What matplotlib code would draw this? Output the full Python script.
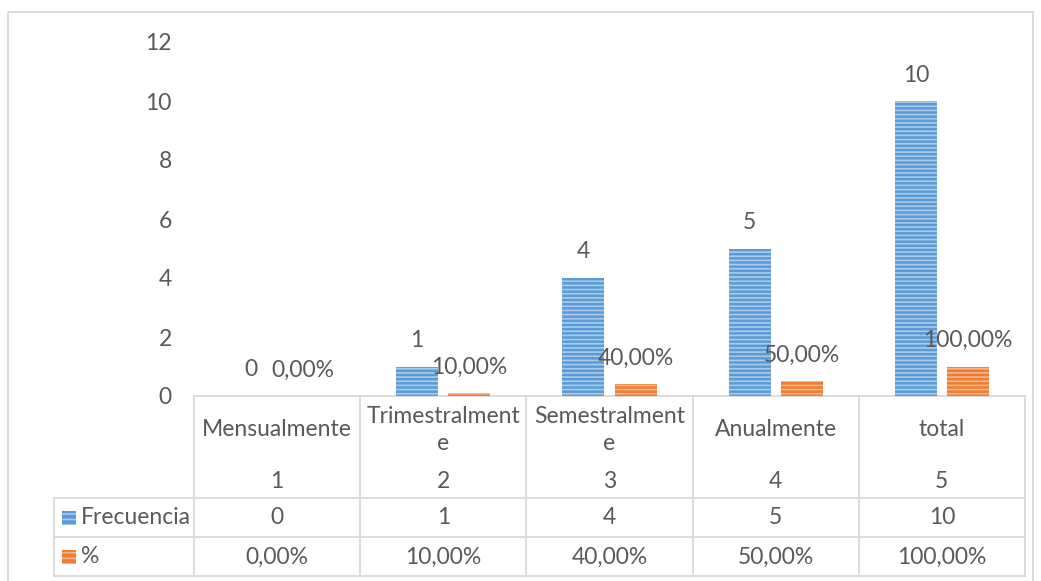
import matplotlib.pyplot as plt
import matplotlib.patches as mpatches
import numpy as np

# data
categories = ["Mensualmente", "Trimestralmente", "Semestralmente", "Anualmente", "total"]
header_labels = ["Mensualmente", "Trimestralment\ne", "Semestralment\ne", "Anualmente", "total"]
row_numbers = ["1", "2", "3", "4", "5"]
frecuencia = [0, 1, 4, 5, 10]
porcentaje = [0.0, 0.10, 0.40, 0.50, 1.00]
series_names = ["Frecuencia", "%"]
yticks = [0, 2, 4, 6, 8, 10, 12]

TXT = "#595959"
GRID = "#D9D9D9"
BLUE, BLUE_L = "#5B9BD5", "#A9CBEB"
ORANGE, ORANGE_L = "#ED7D31", "#F6B48A"

plt.rcParams['font.family'] = ['Lato', 'DejaVu Sans']
plt.rcParams['hatch.linewidth'] = 1.2
FS = 16.5

W, H = 1041, 581
fig = plt.figure(figsize=(W / 100, H / 100), dpi=100)

# pixel layout
x_left, x_right = 194, 1025
y_zero, y_top = 396, 42
leg_left = 54
row_lines = [498, 537, 576]

ax = fig.add_axes([x_left / W, (H - y_zero) / H, (x_right - x_left) / W, (y_zero - y_top) / H])
n = len(categories)
x = np.arange(n)
bw, off = 0.253, 0.157


def striped_bars(xs, vals, face, stripe):
    ax.bar(xs, vals, bw, color=face, linewidth=0, zorder=2)
    ax.bar(xs, vals, bw, facecolor='none', edgecolor=stripe, hatch='----', linewidth=0, zorder=3)


striped_bars(x - off, frecuencia, BLUE, BLUE_L)
striped_bars(x + off, porcentaje, ORANGE, ORANGE_L)


def pct_text(v):
    return f"{v * 100:.2f}%".replace('.', ',')


for i in range(n):
    ax.annotate(f"{frecuencia[i]}", (x[i] - off, frecuencia[i]), xytext=(0, 26),
                textcoords='offset pixels', ha='center', va='center', fontsize=FS, color=TXT)
    ax.annotate(pct_text(porcentaje[i]), (x[i] + off, porcentaje[i]), xytext=(0, 26),
                textcoords='offset pixels', ha='center', va='center', fontsize=FS, color=TXT)

ax.set_xlim(-0.5, n - 0.5)
ax.set_ylim(0, 12)
ax.set_yticks(yticks)
ax.set_xticks([])
ax.tick_params(axis='y', length=0, pad=16, labelsize=FS, labelcolor=TXT)
for s in ax.spines.values():
    s.set_visible(False)
ax.set_facecolor('none')

# overlay in pixel coordinates for border and data table
ov = fig.add_axes([0, 0, 1, 1], zorder=-1)
ov.set_xlim(0, W)
ov.set_ylim(H, 0)
ov.axis('off')
ov.add_patch(mpatches.Rectangle((8, 12), 1025, 600, fill=False, edgecolor=GRID, lw=1.3))

col_w = (x_right - x_left) / n
col_edges = [x_left + k * col_w for k in range(n + 1)]
lw = 1.3
ov.plot([x_left, x_right], [y_zero, y_zero], color=GRID, lw=lw)
for r in row_lines:
    ov.plot([leg_left, x_right], [r, r], color=GRID, lw=lw)
for e in col_edges:
    ov.plot([e, e], [y_zero, row_lines[-1]], color=GRID, lw=lw)
ov.plot([leg_left, leg_left], [row_lines[0], row_lines[-1]], color=GRID, lw=lw)

for i in range(n):
    cx = col_edges[i] + col_w / 2
    ov.text(cx, 430, header_labels[i], ha='center', va='center', fontsize=FS, color=TXT,
            linespacing=1.35)
    ov.text(cx, 481, row_numbers[i], ha='center', va='center', fontsize=FS, color=TXT)
    ov.text(cx, 518, f"{frecuencia[i]}", ha='center', va='center', fontsize=FS, color=TXT)
    ov.text(cx, 557, pct_text(porcentaje[i]), ha='center', va='center', fontsize=FS, color=TXT)

# legend keys in the table
for k, (name, face, stripe) in enumerate(zip(series_names, [BLUE, ORANGE], [BLUE_L, ORANGE_L])):
    yc = (row_lines[k] + row_lines[k + 1]) / 2
    ov.add_patch(mpatches.Rectangle((62, yc - 7), 14, 14, facecolor=face, edgecolor=stripe,
                                    hatch='---', lw=0))
    ov.text(81, yc, name, ha='left', va='center', fontsize=FS, color=TXT)

fig.savefig("out.png", dpi=100)
